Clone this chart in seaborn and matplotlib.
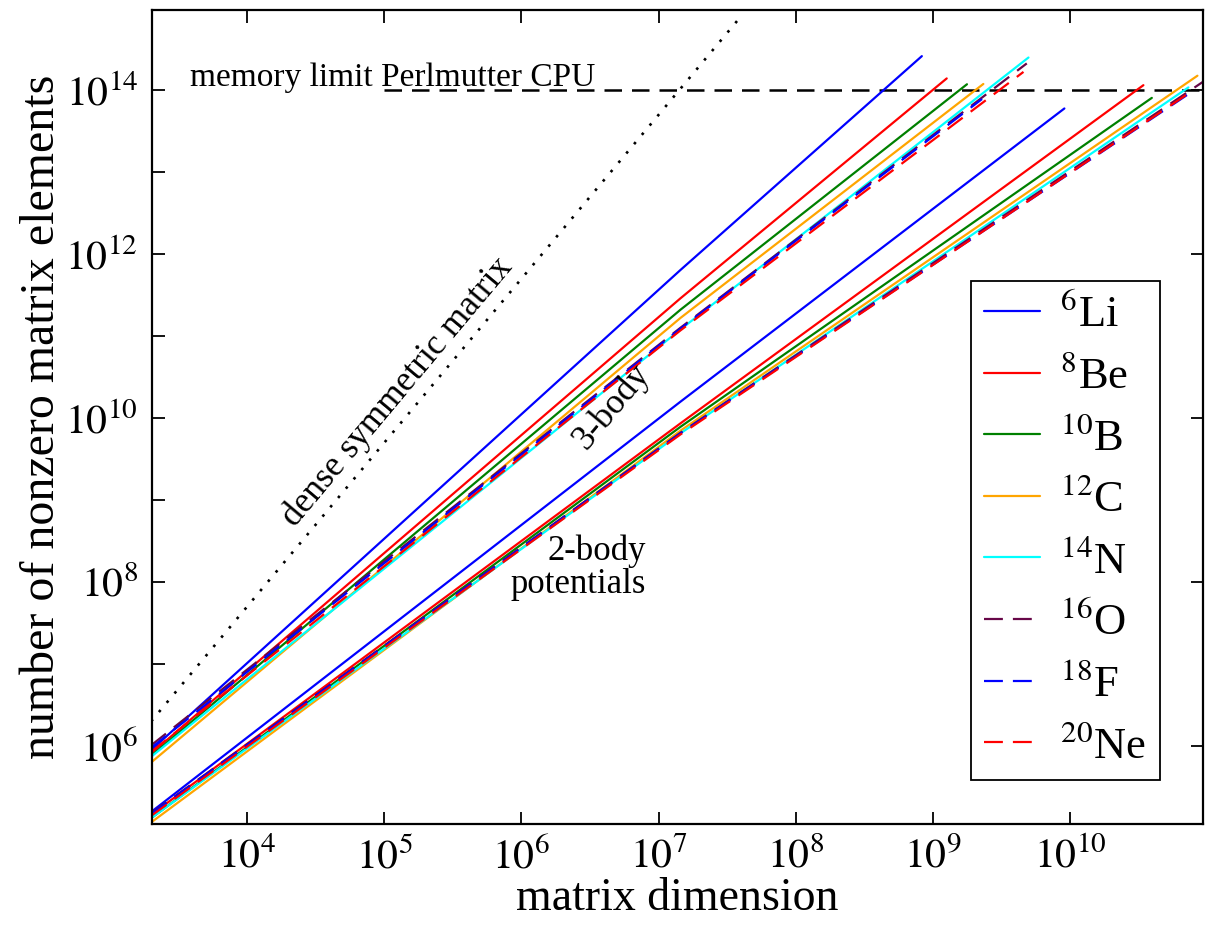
"""
Nonzero matrix elements vs. matrix dimension for 2-body and 3-body potentials.
"""
import numpy as np
import pandas as pd
import matplotlib
matplotlib.use('Agg')
import matplotlib.pyplot as plt
import matplotlib.ticker as mticker
import seaborn as sns

# --- data (start / middle / end of each curve) ---
nuclei = ['6Li', '8Be', '10B', '12C', '14N', '16O', '18F', '20Ne']
legend_labels = [r'$^{6}$Li', r'$^{8}$Be', r'$^{10}$B', r'$^{12}$C',
                 r'$^{14}$N', r'$^{16}$O', r'$^{18}$F', r'$^{20}$Ne']

three_body_dim = {
    '6Li': [2.0e3, 1.44e7, 8.3e8],
    '8Be': [2.0e3, 1.44e7, 1.26e9],
    '10B': [2.0e3, 1.44e7, 1.77e9],
    '12C': [2.0e3, 1.44e7, 2.33e9],
    '14N': [2.0e3, 1.44e7, 4.97e9],
    '16O': [2.0e3, 1.44e7, 4.83e9],
    '18F': [2.0e3, 1.44e7, 2.28e9],
    '20Ne': [2.0e3, 1.44e7, 4.57e9],
}
three_body_nnz = {
    '6Li': [8.9e5, 6.38e11, 2.6e14],
    '8Be': [8.1e5, 2.88e11, 1.39e14],
    '10B': [7.6e5, 2.09e11, 1.18e14],
    '12C': [6.3e5, 1.66e11, 1.19e14],
    '14N': [7.4e5, 1.20e11, 2.5e14],
    '16O': [1.02e6, 1.26e11, 2.12e14],
    '18F': [9.5e5, 1.23e11, 7.8e13],
    '20Ne': [8.5e5, 1.17e11, 1.67e14],
}
two_body_dim = {
    '6Li': [2.0e3, 1.44e7, 9.08e9],
    '8Be': [2.0e3, 1.44e7, 3.42e10],
    '10B': [2.0e3, 1.44e7, 3.94e10],
    '12C': [2.0e3, 1.44e7, 8.47e10],
    '14N': [2.0e3, 1.44e7, 7.28e10],
    '16O': [2.0e3, 1.44e7, 9.27e10],
    '18F': [2.0e3, 1.44e7, 7.71e10],
    '20Ne': [2.0e3, 1.44e7, 7.9e10],
}
two_body_nnz = {
    '6Li': [1.57e5, 1.58e10, 5.98e13],
    '8Be': [1.45e5, 8.6e9, 1.15e14],
    '10B': [1.32e5, 7.8e9, 8.05e13],
    '12C': [1.17e5, 7.0e9, 1.50e14],
    '14N': [1.32e5, 6.5e9, 1.08e14],
    '16O': [1.51e5, 6.6e9, 1.26e14],
    '18F': [1.48e5, 6.5e9, 9.55e13],
    '20Ne': [1.41e5, 6.3e9, 1.0e14],
}
dense_dim = [2.0e3, 4.0e7]
dense_nnz = [2.0e6, 8.0e14]
memory_dim = [1.0e5, 1.0e11]
memory_nnz = [1.0e14, 1.0e14]

x_ticks = [1e4, 1e5, 1e6, 1e7, 1e8, 1e9, 1e10]
y_ticks = [1e6, 1e8, 1e10, 1e12, 1e14]
y_minor_ticks = [1e7, 1e9, 1e11, 1e13]

colors = ['#0000ff', '#ff0000', '#008000', '#ffa500', '#00ffff',
          '#670748', '#0000ff', '#ff0000']
dashed = [False, False, False, False, False, True, True, True]

rows = []
for pot, dims, nnzs in [('3-body', three_body_dim, three_body_nnz),
                        ('2-body', two_body_dim, two_body_nnz)]:
    for nuc in nuclei:
        for d, n in zip(dims[nuc], nnzs[nuc]):
            rows.append({'potential': pot, 'nucleus': nuc, 'dim': d, 'nnz': n})
df = pd.DataFrame(rows)

sns.set_theme(style='ticks')
plt.rcParams['font.family'] = ['Liberation Serif', 'DejaVu Serif']
plt.rcParams['mathtext.fontset'] = 'stix'
plt.rcParams['text.color'] = 'black'
plt.rcParams['axes.labelcolor'] = 'black'
plt.rcParams['xtick.color'] = 'black'
plt.rcParams['ytick.color'] = 'black'

fig = plt.figure(figsize=(12.09, 9.32), dpi=100)
ax = fig.add_axes([152 / 1209, 1 - 824 / 932, (1203 - 152) / 1209, (824 - 10) / 932])
ax.set_xscale('log')
ax.set_yscale('log')

# dense matrix reference and memory limit
sns.lineplot(x=dense_dim, y=dense_nnz, ax=ax, color='black', lw=1.9,
             linestyle=(0, (1, 3.6)))
sns.lineplot(x=memory_dim, y=memory_nnz, ax=ax, color='black', lw=1.8,
             linestyle=(0, (7, 4)))

handles = []
for pot in ['2-body', '3-body']:
    for nuc, c, dsh, lab in zip(nuclei, colors, dashed, legend_labels):
        sub = df[(df['potential'] == pot) & (df['nucleus'] == nuc)]
        ls = (0, (8.5, 4.5)) if dsh else '-'
        sns.lineplot(data=sub, x='dim', y='nnz', ax=ax, color=c, lw=1.6,
                     linestyle=ls, estimator=None, sort=True)
        if pot == '3-body':
            handles.append(ax.lines[-1])

ax.set_xlim(2.03e3, 9.3e10)
ax.set_ylim(1.12e5, 9.5e14)

# ticks
fmt = mticker.FuncFormatter(lambda v, pos: r'$10^{%d}$' % round(np.log10(v)))
ax.xaxis.set_major_locator(mticker.FixedLocator(x_ticks))
ax.xaxis.set_minor_locator(mticker.NullLocator())
ax.xaxis.set_major_formatter(fmt)
ax.yaxis.set_major_locator(mticker.FixedLocator(y_ticks))
ax.yaxis.set_minor_locator(mticker.FixedLocator(y_minor_ticks))
ax.yaxis.set_major_formatter(fmt)
ax.yaxis.set_minor_formatter(mticker.NullFormatter())
ax.tick_params(which='major', direction='in', length=9, width=1.3,
               top=True, right=True, labelsize=30, pad=10, colors='black')
ax.tick_params(which='minor', direction='in', length=9, width=1.3,
               left=True, right=False, top=False, bottom=False)
for s in ax.spines.values():
    s.set_linewidth(1.6)
    s.set_color('black')

ax.set_xlabel('matrix dimension', fontsize=33, labelpad=0)
ax.set_ylabel('number of nonzero matrix elements', fontsize=34.5, labelpad=1)

# annotations
ax.text(3.84e3, 1.12e14, 'memory limit Perlmutter CPU', fontsize=24,
        ha='left', va='baseline')
ax.text(1.24e5, 2.08e10, 'dense symmetric matrix', fontsize=25.5,
        rotation=50, ha='center', va='center', rotation_mode='anchor')
ax.text(4.58e6, 1.36e10, '3-body', fontsize=25.5,
        rotation=50, ha='center', va='center', rotation_mode='anchor')
ax.text(8.1e6, 1.48e8, '2-body\npotentials', fontsize=25,
        ha='right', va='center', multialignment='right', linespacing=1.0)

leg = ax.legend(handles, legend_labels, loc='lower right',
                bbox_to_anchor=(0.959, 0.054), borderaxespad=0,
                fontsize=32, handlelength=1.26, handletextpad=0.45,
                labelspacing=0.46, borderpad=0.3, fancybox=False,
                framealpha=1, edgecolor='black')
leg.get_frame().set_linewidth(1.3)

fig.savefig('out.png', dpi=100)
